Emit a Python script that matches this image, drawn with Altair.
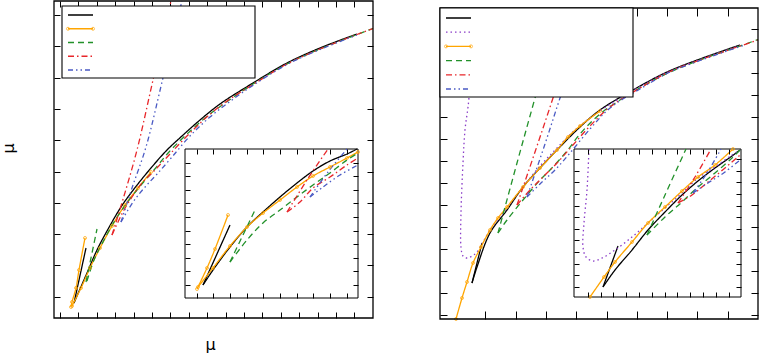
import altair as alt
import pandas as pd

W, H = 759, 355

# ---------------- series definitions ----------------
NAMES = ["exact", "series I", "series II", "series III", "series IV", "series V"]
COLORS = ["#000000", "#8a3dc8", "#ffa500", "#22912a", "#e8262a", "#4a5ac4"]
DASHES = [[1, 0], [1.5, 3], [1, 0], [6, 4], [6, 3, 1.5, 3], [5, 3, 1.5, 3, 1.5, 3]]

# ---------------- left panel, main plot ----------------
LM_EXACT = [
    [(2.0, 1.5), (3.2, 7.0)],
    [(2.0, 1.5), (2.6, 2.9), (3.3, 4.5), (4.3, 6.8), (5.3, 8.7), (6.7, 11.1), (8.0, 12.9),
     (9.7, 15.0), (11.3, 16.8), (12.8, 18.2), (14.6, 19.8), (16.6, 21.4), (19.9, 23.5),
     (23.3, 25.5), (26.6, 27.0), (30.3, 28.4)],
]
LM_II = [
    [(1.7, 1.1), (1.8, 1.6), (2.2, 3.0), (2.5, 4.8), (3.1, 8.0)],
    [(1.8, 1.2), (2.7, 3.0), (3.6, 5.0), (4.6, 7.0), (5.8, 9.2), (7.1, 11.3), (8.4, 13.0), (9.7, 14.6)],
]
LM_III = [
    [(3.2, 3.6), (4.3, 8.9)],
    [(3.3, 3.7), (4.0, 5.8), (5.0, 7.8), (6.0, 9.6), (7.0, 11.1), (8.3, 12.8), (10.0, 14.8),
     (11.5, 16.6), (13.1, 18.2), (15.1, 20.0), (17.1, 21.5), (19.9, 23.4), (23.3, 25.4),
     (26.6, 26.9), (30.3, 28.35), (31.9, 28.95)],
]
LM_IV = [
    [(5.8, 8.3), (7.0, 12.2), (8.3, 16.8), (9.9, 23.8), (11.7, 31.7)],
    [(5.8, 8.3), (6.4, 9.6), (7.0, 10.8), (7.8, 12.1), (8.8, 13.5), (10.1, 14.8), (11.6, 16.4),
     (13.4, 18.3), (15.4, 20.2), (17.6, 21.9), (19.9, 23.35), (23.3, 25.4), (26.6, 26.9),
     (30.3, 28.35), (31.9, 28.95)],
]
LM_V = [
    [(6.7, 9.6), (7.8, 13.0), (9.2, 17.1), (10.9, 24.0), (12.8, 31.7)],
    [(6.7, 9.6), (7.4, 10.8), (8.2, 12.0), (9.2, 13.2), (10.4, 14.5), (11.8, 16.1), (13.6, 18.2),
     (15.6, 20.1), (17.8, 21.8), (20.1, 23.4), (23.3, 25.35), (26.6, 26.85), (30.3, 28.3)],
]

# ---------------- left panel, inset ----------------
LI_EXACT = [
    [(1.8, 1.3), (4.5, 7.3)],
    [(1.8, 1.3), (2.8, 2.8), (4.5, 5.1), (6.2, 7.1), (7.8, 8.6), (9.5, 10.1), (11.2, 11.5),
     (12.8, 12.7), (14.5, 13.7), (16.2, 14.4), (17.2, 14.9)],
]
LI_II = [
    [(1.2, 0.9), (2.2, 3.0), (3.0, 4.9), (4.3, 8.3)],
    [(1.3, 1.1), (2.8, 3.0), (4.5, 5.2), (6.2, 7.1), (7.8, 8.5), (9.5, 9.8), (11.2, 11.1),
     (12.8, 12.2), (14.5, 13.1), (16.2, 14.0), (17.3, 14.6)],
]
LI_III = [
    [(4.5, 3.6), (7.1, 9.0)],
    [(4.5, 3.6), (6.2, 5.8), (7.8, 7.5), (9.5, 8.8), (11.2, 10.1), (12.8, 11.3), (14.5, 12.5),
     (16.2, 13.8), (17.3, 14.5)],
]
LI_IV = [
    [(10.2, 8.6), (12.2, 11.8), (14.3, 14.9)],
    [(10.2, 8.6), (11.5, 9.6), (12.8, 11.0), (14.5, 12.1), (16.2, 13.3), (17.3, 14.0)],
]
LI_V = [
    [(12.5, 10.1), (14.3, 12.6), (16.2, 14.9)],
    [(12.5, 10.1), (13.8, 11.1), (15.5, 12.3), (17.3, 13.3)],
]

# ---------------- right panel, main plot ----------------
RM_EXACT = [
    [(3.2, 3.6), (4.2, 7.6)],
    [(3.2, 3.6), (3.7, 5.2), (5.0, 8.6), (6.7, 10.9), (8.3, 13.2), (10.0, 15.1), (11.7, 16.9),
     (14.0, 19.2), (16.0, 20.9), (19.3, 22.9), (22.7, 24.7), (26.0, 26.0), (30.0, 27.4)],
]
RM_I = [
    [(3.1, 31.1), (2.9, 22.2), (2.5, 18.9), (2.3, 15.6), (2.1, 10.6), (2.1, 7.2), (2.3, 6.3),
     (2.7, 6.1), (3.2, 6.3), (3.7, 6.7), (5.0, 8.9), (6.7, 11.1), (8.3, 13.2), (10.0, 15.3),
     (11.7, 17.1), (13.5, 18.9), (16.0, 20.8), (19.3, 22.85), (22.7, 24.65), (26.0, 25.95),
     (30.0, 27.35)],
]
RM_II = [
    [(1.6, 0.0), (2.2, 2.1), (2.7, 3.7), (3.3, 5.6), (4.1, 7.2), (5.0, 8.9), (5.8, 10.1),
     (6.7, 11.2), (8.3, 13.2), (10.0, 15.1), (11.7, 16.9), (12.8, 18.2), (14.0, 19.3), (16.0, 20.8)],
]
RM_III = [
    [(5.8, 8.6), (7.7, 15.6), (9.5, 22.1), (12.0, 31.1)],
    [(5.8, 8.6), (6.7, 9.9), (8.3, 11.9), (10.0, 13.9), (11.0, 14.9), (12.7, 16.8), (14.0, 18.5),
     (16.0, 20.5), (19.3, 22.7), (22.7, 24.55), (26.0, 25.9), (30.0, 27.3), (31.8, 27.95)],
]
RM_IV = [
    [(7.7, 11.4), (9.5, 16.7), (11.3, 22.1), (14.2, 31.1)],
    [(7.7, 11.4), (9.0, 12.9), (10.3, 14.2), (11.7, 15.6), (13.3, 17.4), (15.0, 19.3), (17.0, 21.2),
     (20.0, 23.1), (23.0, 24.75), (26.0, 25.9), (29.0, 26.95), (31.8, 27.9)],
]
RM_V = [
    [(8.7, 12.2), (10.4, 17.2), (12.0, 22.1), (15.0, 31.1)],
    [(8.7, 12.2), (10.0, 13.5), (11.5, 14.9), (13.0, 16.6), (15.0, 19.0), (17.0, 21.1), (20.0, 23.0),
     (23.0, 24.7), (26.0, 25.85), (29.0, 26.9), (30.5, 27.4)],
]

# ---------------- right panel, inset ----------------
RI_EXACT = [
    [(2.9, 1.0), (4.4, 5.1)],
    [(2.9, 1.0), (4.1, 2.7), (5.8, 4.7), (7.4, 6.7), (9.1, 8.5), (10.8, 10.2), (12.4, 11.6),
     (14.1, 12.9), (15.8, 14.1), (16.6, 14.7)],
]
RI_I = [
    [(1.5, 14.8), (1.3, 10.7), (1.0, 7.4), (0.9, 5.0), (1.2, 4.0), (1.9, 3.6), (2.8, 3.9),
     (4.1, 4.7), (5.8, 6.0), (7.4, 7.4), (9.1, 8.9), (10.8, 10.4), (12.4, 11.9), (14.1, 13.0),
     (15.8, 14.2), (16.6, 14.7)],
]
RI_II = [
    [(1.6, 0.0), (3.0, 2.0), (4.1, 3.5), (5.8, 5.5), (7.4, 7.4), (9.1, 9.0), (10.8, 10.6),
     (12.4, 12.0), (14.1, 13.2), (15.9, 14.8)],
]
RI_III = [
    [(7.3, 6.2), (9.1, 10.2), (11.2, 14.8)],
    [(7.3, 6.2), (9.1, 8.0), (10.8, 9.5), (12.4, 11.0), (14.1, 12.4), (15.8, 13.9), (16.6, 14.7)],
]
RI_IV = [
    [(10.4, 9.4), (12.1, 12.0), (13.7, 14.8)],
    [(10.4, 9.4), (11.8, 10.2), (13.4, 11.5), (15.1, 12.9), (16.6, 14.2)],
]
RI_V = [
    [(11.9, 10.4), (13.3, 12.4), (14.7, 14.8)],
    [(11.9, 10.4), (13.4, 11.4), (15.1, 12.5), (16.6, 13.7)],
]

# ---------------- tick positions (no labels shown) ----------------
LM_XTICKS = [round(0.6 + 1.84 * k, 2) for k in range(17)]
LM_YTICKS = [round(2.13 + 3.13 * k, 2) for k in range(10)]
LI_XTICKS = [round(1.17 + 1.667 * k, 2) for k in range(10)]
LI_YTICKS = [round(1.3 + 1.36 * k, 2) for k in range(10)]
RM_XTICKS = [round(4.53 + 3.03 * k, 2) for k in range(9)]
RM_YTICKS = [round(0.4 + 2.2 * k, 2) for k in range(14)]
RI_XTICKS = [round(1.37 + 1.28 * k, 2) for k in range(12)]
RI_YTICKS = [round(1.03 + 1.16 * k, 2) for k in range(12)]


def table(groups):
    rows = []
    for name, branches in groups:
        for b, branch in enumerate(branches):
            for i, (x, y) in enumerate(branch):
                rows.append({"series": name, "seg": f"{name}/{b}", "i": i, "x": x, "y": y})
    return pd.DataFrame(rows)


def axis(orient, values, size, offset, z, **extra):
    opts = dict(orient=orient, values=values, tickSize=size, offset=offset, labels=False,
                domain=False, grid=False, ticks=True, tickColor="black", tickWidth=1, zindex=z)
    opts.update(extra)
    if "title" not in opts:
        opts["title"] = None
    return alt.Axis(**opts)


def series_scales(names):
    cols = [COLORS[NAMES.index(n)] for n in names]
    dashes = [DASHES[NAMES.index(n)] for n in names]
    return (alt.Scale(domain=names, range=cols), alt.Scale(domain=names, range=dashes))


def panel(groups, frame, xdom, ydom, xticks, yticks, tx, ty, z,
          fill_opacity=0.0, frame_width=1.3, xtitle=None, ytitle=None):
    """Returns [frame box, lines, orange markers] for one plot area."""
    xl, xr, yt, yb = frame
    names = [g[0] for g in groups]
    cscale, dscale = series_scales(names)
    df = table(groups)
    xs = alt.Scale(domain=xdom, range=[xl, xr], nice=False, zero=False)
    ys = alt.Scale(domain=ydom, range=[yb, yt], nice=False, zero=False)

    lines = alt.Chart(df).mark_line(strokeWidth=1.3, interpolate="catmull-rom").encode(
        x=alt.X("x:Q", scale=xs, axis=axis("bottom", xticks, tx, yb - tx - H, z, **(xtitle or {}))),
        y=alt.Y("y:Q", scale=ys, axis=axis("left", yticks, ty, -(xl + ty), z, **(ytitle or {}))),
        color=alt.Color("series:N", scale=cscale, legend=None),
        strokeDash=alt.StrokeDash("series:N", scale=dscale, legend=None),
        detail="seg:N",
        order="i:Q",
    )
    orange = df[df["series"] == "series II"]
    points = alt.Chart(orange).mark_point(shape="circle", size=9, filled=False,
                                          color=COLORS[2], strokeWidth=1).encode(
        x=alt.X("x:Q", scale=xs, axis=None),
        y=alt.Y("y:Q", scale=ys, axis=None),
    )
    fdf = pd.DataFrame({"x0": [xdom[0]], "x1": [xdom[1]], "y0": [ydom[0]], "y1": [ydom[1]]})
    box = alt.Chart(fdf).mark_rect(fill="white", fillOpacity=fill_opacity, stroke="black",
                                   strokeWidth=frame_width).encode(
        x=alt.X("x0:Q", scale=xs, axis=axis("top", xticks, tx, -(yt + tx), z)),
        x2="x1:Q",
        y=alt.Y("y0:Q", scale=ys, axis=axis("right", yticks, ty, xr - ty - W, z)),
        y2="y1:Q",
    )
    return [box, lines, points]


def key(names, sample_x, rows_y, box):
    """Legend drawn as a small key: one sample line per series, no text."""
    cscale, dscale = series_scales(names)
    kdf = pd.DataFrame({"series": names, "a": 0.0, "b": 1.0})
    kx = alt.Scale(domain=[0, 1], range=sample_x, nice=False, zero=False)
    ky = alt.Scale(type="point", domain=names, range=rows_y, padding=0)
    frame = alt.Chart(pd.DataFrame({"k": [0]})).mark_rect(
        fill="white", stroke="black", strokeWidth=1.1).encode(
        x=alt.value(box[0]), x2=alt.value(box[1]), y=alt.value(box[2]), y2=alt.value(box[3]))
    samples = alt.Chart(kdf).mark_rule(strokeWidth=1.3).encode(
        x=alt.X("a:Q", scale=kx, axis=None), x2="b:Q",
        y=alt.Y("series:N", scale=ky, axis=None),
        color=alt.Color("series:N", scale=cscale, legend=None),
        strokeDash=alt.StrokeDash("series:N", scale=dscale, legend=None),
    )
    ends = pd.DataFrame({"series": ["series II", "series II"], "t": [0.0, 1.0]})
    marks = alt.Chart(ends).mark_point(shape="circle", size=9, filled=False,
                                       color=COLORS[2], strokeWidth=1).encode(
        x=alt.X("t:Q", scale=kx, axis=None),
        y=alt.Y("series:N", scale=ky, axis=None),
    )
    return [frame, samples, marks]


TITLE_FONT = dict(titleFont="DejaVu Sans", titleFontSize=16, titleFontWeight="normal",
                  titleColor="black", titleBaseline="alphabetic", titleAlign="center")

LEFT = [("exact", LM_EXACT), ("series II", LM_II), ("series III", LM_III),
        ("series IV", LM_IV), ("series V", LM_V)]
LEFT_INSET = [("exact", LI_EXACT), ("series II", LI_II), ("series III", LI_III),
              ("series IV", LI_IV), ("series V", LI_V)]
RIGHT = [("exact", RM_EXACT), ("series I", RM_I), ("series II", RM_II),
         ("series III", RM_III), ("series IV", RM_IV), ("series V", RM_V)]
RIGHT_INSET = [("exact", RI_EXACT), ("series I", RI_I), ("series II", RI_II),
               ("series III", RI_III), ("series IV", RI_IV), ("series V", RI_V)]

lm = panel(LEFT, frame=(54, 373, 1, 318), xdom=[0, 31.9], ydom=[0, 31.7],
           xticks=LM_XTICKS, yticks=LM_YTICKS, tx=6, ty=6, z=0,
           xtitle=dict(title="μ", titleX=210, titleY=37, titleAngle=0, **TITLE_FONT),
           ytitle=dict(title="μ", titleX=-47, titleY=148, titleAngle=-90, **TITLE_FONT))
li = panel(LEFT_INSET, frame=(185, 358, 149, 298), xdom=[0, 17.3], ydom=[0, 14.9],
           xticks=LI_XTICKS, yticks=LI_YTICKS, tx=5, ty=5, z=1,
           fill_opacity=1.0, frame_width=1.0)
rm = panel(RIGHT, frame=(440, 758, 8, 319), xdom=[0, 31.8], ydom=[0, 31.1],
           xticks=RM_XTICKS, yticks=RM_YTICKS, tx=8, ty=7, z=0)
ri = panel(RIGHT_INSET, frame=(574, 741, 149, 297), xdom=[0, 16.7], ydom=[0, 14.8],
           xticks=RI_XTICKS, yticks=RI_YTICKS, tx=5, ty=5, z=1,
           fill_opacity=1.0, frame_width=1.0)

layers = []
layers += [lm[1], lm[2], lm[0]]
layers += li
layers += [rm[1], rm[2], rm[0]]
layers += ri
layers += key([n for n, _ in LEFT], [68, 93], [15, 70], (62, 255, 6, 78))
layers += key([n for n, _ in RIGHT], [446, 471], [18, 89], (440, 633, 8, 97))

chart = alt.layer(*layers).resolve_scale(
    x="independent", y="independent", color="independent", strokeDash="independent"
).properties(
    width=W, height=H, padding=0, autosize=alt.AutoSizeParams(type="none"),
    background="white",
).configure_view(strokeWidth=0)

chart.save("out.html", embed_options={"renderer": "svg", "actions": False})
